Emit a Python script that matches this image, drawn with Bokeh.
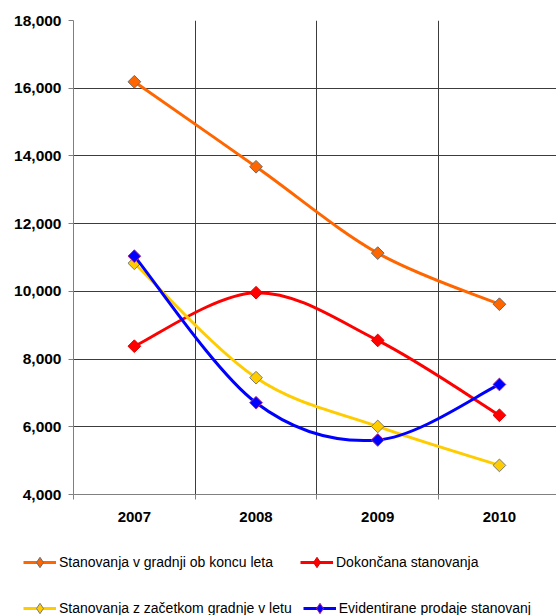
from math import pi

from bokeh.plotting import figure
from bokeh.layouts import column
from bokeh.models import (ColumnDataSource, FixedTicker, NumeralTickFormatter,
                          Legend, LegendItem, Range1d)
from bokeh.embed import file_html
from bokeh.resources import INLINE

# --- data -------------------------------------------------------------
years = ["2007", "2008", "2009", "2010"]
v_gradnji = [16190, 13680, 11130, 9620]      # Stanovanja v gradnji ob koncu leta
dokoncana = [8380, 9960, 8550, 6340]         # Dokončana stanovanja
zacetek = [10830, 7450, 6010, 4860]          # Stanovanja z začetkom gradnje v letu
prodaje = [11040, 6710, 5610, 7250]          # Evidentirane prodaje stanovanj
series_names = [
    "Stanovanja v gradnji ob koncu leta",
    "Dokončana stanovanja",
    "Stanovanja z začetkom gradnje v letu",
    "Evidentirane prodaje stanovanj",
]
y_ticks = [4000, 6000, 8000, 10000, 12000, 14000, 16000, 18000]

FONT = "Liberation Sans"

# categories sit in the middle of unit-wide bands
xs = [i + 0.5 for i in range(len(years))]


def smooth_segments(x, y):
    """Cubic Bezier segments (Catmull-Rom style tangents) through the points."""
    n = len(x)
    seg = dict(x0=[], y0=[], x1=[], y1=[], cx0=[], cy0=[], cx1=[], cy1=[])
    for i in range(n - 1):
        xp, yp = (x[i - 1], y[i - 1]) if i > 0 else (x[i], y[i])
        xn, yn = (x[i + 2], y[i + 2]) if i + 2 < n else (x[i + 1], y[i + 1])
        seg["x0"].append(x[i])
        seg["y0"].append(y[i])
        seg["x1"].append(x[i + 1])
        seg["y1"].append(y[i + 1])
        seg["cx0"].append(x[i] + (x[i + 1] - xp) / 6)
        seg["cy0"].append(y[i] + (y[i + 1] - yp) / 6)
        seg["cx1"].append(x[i + 1] - (xn - x[i]) / 6)
        seg["cy1"].append(y[i + 1] - (yn - y[i]) / 6)
    return ColumnDataSource(seg)


p = figure(width=556, height=540,
           x_range=Range1d(0, 3.969), y_range=Range1d(4000, 18000),
           output_backend="svg", toolbar_location=None,
           min_border_left=73, min_border_right=0,
           min_border_top=20, min_border_bottom=46)
p.frame_align = False
p.outline_line_color = None
p.background_fill_color = "white"
p.border_fill_color = "white"

# grid
p.xgrid.ticker = FixedTicker(ticks=[1, 2, 3])
p.xgrid.grid_line_color = "#3c3c3c"
p.ygrid.ticker = FixedTicker(ticks=y_ticks)
p.ygrid.grid_line_color = "#3c3c3c"

# y axis
p.yaxis.ticker = FixedTicker(ticks=y_ticks)
p.yaxis.formatter = NumeralTickFormatter(format="0,0")
p.yaxis.axis_line_color = "#808080"
p.yaxis.major_tick_line_color = "#808080"
p.yaxis.major_tick_out = 5
p.yaxis.major_tick_in = 0
p.yaxis.minor_tick_line_color = None
p.yaxis.major_label_standoff = 7
p.yaxis.major_label_text_font = FONT
p.yaxis.major_label_text_font_style = "bold"
p.yaxis.major_label_text_font_size = "15.5px"
p.yaxis.major_label_text_color = "black"

# x axis: labels in band centres, tick marks on band boundaries
p.xaxis.ticker = FixedTicker(ticks=xs, minor_ticks=[0, 1, 2, 3])
p.xaxis.major_label_overrides = {x: y for x, y in zip(xs, years)}
p.xaxis.axis_line_color = "#808080"
p.xaxis.major_tick_line_color = None
p.xaxis.major_tick_out = 0
p.xaxis.major_tick_in = 0
p.xaxis.minor_tick_line_color = "#808080"
p.xaxis.minor_tick_out = 5
p.xaxis.minor_tick_in = 0
p.xaxis.major_label_standoff = 12
p.xaxis.major_label_text_font = FONT
p.xaxis.major_label_text_font_style = "bold"
p.xaxis.major_label_text_font_size = "15px"
p.xaxis.major_label_text_color = "black"

styles = [
    (v_gradnji, "#FF6600", "#6b6b6b"),
    (dokoncana, "#FF0000", "#E00000"),
    (zacetek, "#FFCC00", "#7a7a7a"),
    (prodaje, "#0000FF", "#B0208F"),
]

for vals, color, edge in styles:
    p.bezier(x0="x0", y0="y0", x1="x1", y1="y1",
             cx0="cx0", cy0="cy0", cx1="cx1", cy1="cy1",
             source=smooth_segments(xs, vals), line_color=color, line_width=3)
    p.scatter(x=xs, y=vals, marker="square", angle=pi / 4, size=9,
              fill_color=color, line_color=edge, line_width=1)

# --- legend strip under the chart ------------------------------------
# the series are repeated here (outside the strip's visible range) only so
# that the legend has renderers of its own to draw its keys from
lf = figure(width=556, height=75, x_range=Range1d(0, 1), y_range=Range1d(0, 1),
            x_axis_type=None, y_axis_type=None,
            output_backend="svg", toolbar_location=None,
            min_border=0, outline_line_color=None)
lf.frame_align = False
lf.grid.visible = False

items = []
for (vals, color, edge), name in zip(styles, series_names):
    key = lf.line(x=xs, y=vals, line_color=color, line_width=3)
    mk = lf.scatter(x=xs, y=vals, marker="diamond", size=9,
                    fill_color=color, line_color=edge, line_width=1)
    items.append(LegendItem(label=name, renderers=[key, mk]))


def make_legend(its, y_off):
    # one legend row; equal label widths keep the two columns aligned
    lg = Legend(items=its, location=(23, y_off), orientation="horizontal",
                padding=0, margin=0, spacing=11,
                glyph_width=33, glyph_height=26, label_height=26,
                label_width=230, label_standoff=3,
                border_line_color=None, background_fill_alpha=0,
                label_text_font=FONT, label_text_font_size="14px",
                label_text_color="black")
    lf.add_layout(lg)


make_legend([items[0], items[1]], 40)
make_legend([items[2], items[3]], -6)

open("out.html", "w").write(file_html(column(p, lf, spacing=0), INLINE))
